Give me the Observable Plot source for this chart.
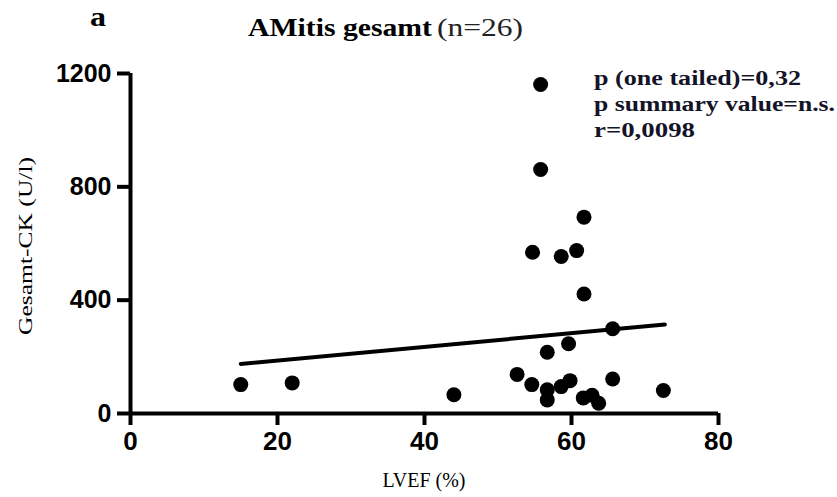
<!DOCTYPE html>
<html><head><meta charset="utf-8">
<script src="https://cdn.jsdelivr.net/npm/d3@7"></script>
<script src="https://cdn.jsdelivr.net/npm/@observablehq/plot@0.6"></script>
<style>
body{margin:0;background:#fff;}
#wrap{position:relative;width:837px;height:497px;overflow:hidden;}
#wrap svg{position:absolute;left:0;top:0;}
</style></head><body><div id="wrap"></div>
<script>
// data
const lvef = [15, 22, 44, 52.6, 54.6, 54.7, 55.8, 55.8, 56.7, 56.7, 56.7, 58.6, 58.6, 59.6, 59.8, 60.7, 61.6, 61.7, 61.7, 62.8, 63.7, 65.6, 65.6, 72.5];
const ck   = [102, 108, 66, 138, 102, 569, 1161, 861, 216, 84, 48, 554, 95, 246, 116, 575, 55, 693, 422, 64, 36, 299, 122, 81];
const fitLvef = [15, 72.7];
const fitCk = [175, 314];
const xTicks = [0, 20, 40, 60, 80];
const yTicks = [0, 400, 800, 1200];
const panelLabel = "a";
const titleBold = "AMitis gesamt";
const titleRegular = "(n=26)";
const stats = ["p (one tailed)=0,32", "p summary value=n.s.", "r=0,0098"];
const xLabel = "LVEF (%)";
const yLabel = "Gesamt-CK (U/l)";

const points = lvef.map((v, i) => ({lvef: v, ck: ck[i]}));
const fit = fitLvef.map((v, i) => ({lvef: v, ck: fitCk[i]}));

const chart = Plot.plot({
  width: 837, height: 497,
  marginLeft: 130, marginRight: 119, marginTop: 73, marginBottom: 84,
  x: {domain: [0, 80]},
  y: {domain: [0, 1200]},
  style: {background: "transparent", color: "#000"},
  marks: [
    Plot.axisX(xTicks, {tickSize: 12, tickPadding: 6, strokeWidth: 4, fontSize: 26, fontWeight: "bold", fontFamily: "Liberation Sans, Arial, sans-serif", tickFormat: d => String(d), label: null}),
    Plot.axisY(yTicks, {tickSize: 13, tickPadding: 6, strokeWidth: 4, fontSize: 25, fontWeight: "bold", fontFamily: "Liberation Sans, Arial, sans-serif", tickFormat: d => String(d), label: null}),
    Plot.ruleY([0], {strokeWidth: 4}),
    Plot.ruleX([0], {strokeWidth: 4}),
    Plot.line(fit, {x: "lvef", y: "ck", strokeWidth: 4, stroke: "#000"}),
    Plot.dot(points, {x: "lvef", y: "ck", r: 7.5, fill: "#000", stroke: null})
  ]
});
document.getElementById("wrap").appendChild(chart);

// text overlay
const ns = "http://www.w3.org/2000/svg";
const ov = document.createElementNS(ns, "svg");
ov.setAttribute("width", 837); ov.setAttribute("height", 497);
function txt(s, attrs) {
  const t = document.createElementNS(ns, "text");
  t.textContent = s;
  for (const k in attrs) t.setAttribute(k, attrs[k]);
  ov.appendChild(t);
  return t;
}
const serif = "Liberation Serif, 'DejaVu Serif', serif";
txt(panelLabel, {x: 90, y: 26, "font-family": serif, "font-weight": "bold", "font-size": 28, fill: "#000", textLength: 16, lengthAdjust: "spacingAndGlyphs"});
txt(titleBold, {x: 248, y: 36, "font-family": serif, "font-weight": "bold", "font-size": 26, fill: "#000", textLength: 184, lengthAdjust: "spacingAndGlyphs"});
txt(titleRegular, {x: 437, y: 36, "font-family": serif, "font-size": 26, fill: "#222", textLength: 86, lengthAdjust: "spacingAndGlyphs"});
const statW = [207, 241, 101];
stats.forEach((s, i) => txt(s, {x: 594, y: 85 + i * 26, "font-family": serif, "font-weight": "bold", "font-size": 20, fill: "#141428", textLength: statW[i], lengthAdjust: "spacingAndGlyphs"}));
txt(xLabel, {x: 424, y: 487, "text-anchor": "middle", "font-family": serif, "font-size": 21, fill: "#000", textLength: 83, lengthAdjust: "spacingAndGlyphs"});
txt(yLabel, {x: 0, y: 0, "text-anchor": "middle", "dominant-baseline": "central", transform: "translate(25,246) rotate(-90)", "font-family": serif, "font-size": 19, fill: "#000", textLength: 178, lengthAdjust: "spacingAndGlyphs"});
document.getElementById("wrap").appendChild(ov);
</script>
</body></html>
